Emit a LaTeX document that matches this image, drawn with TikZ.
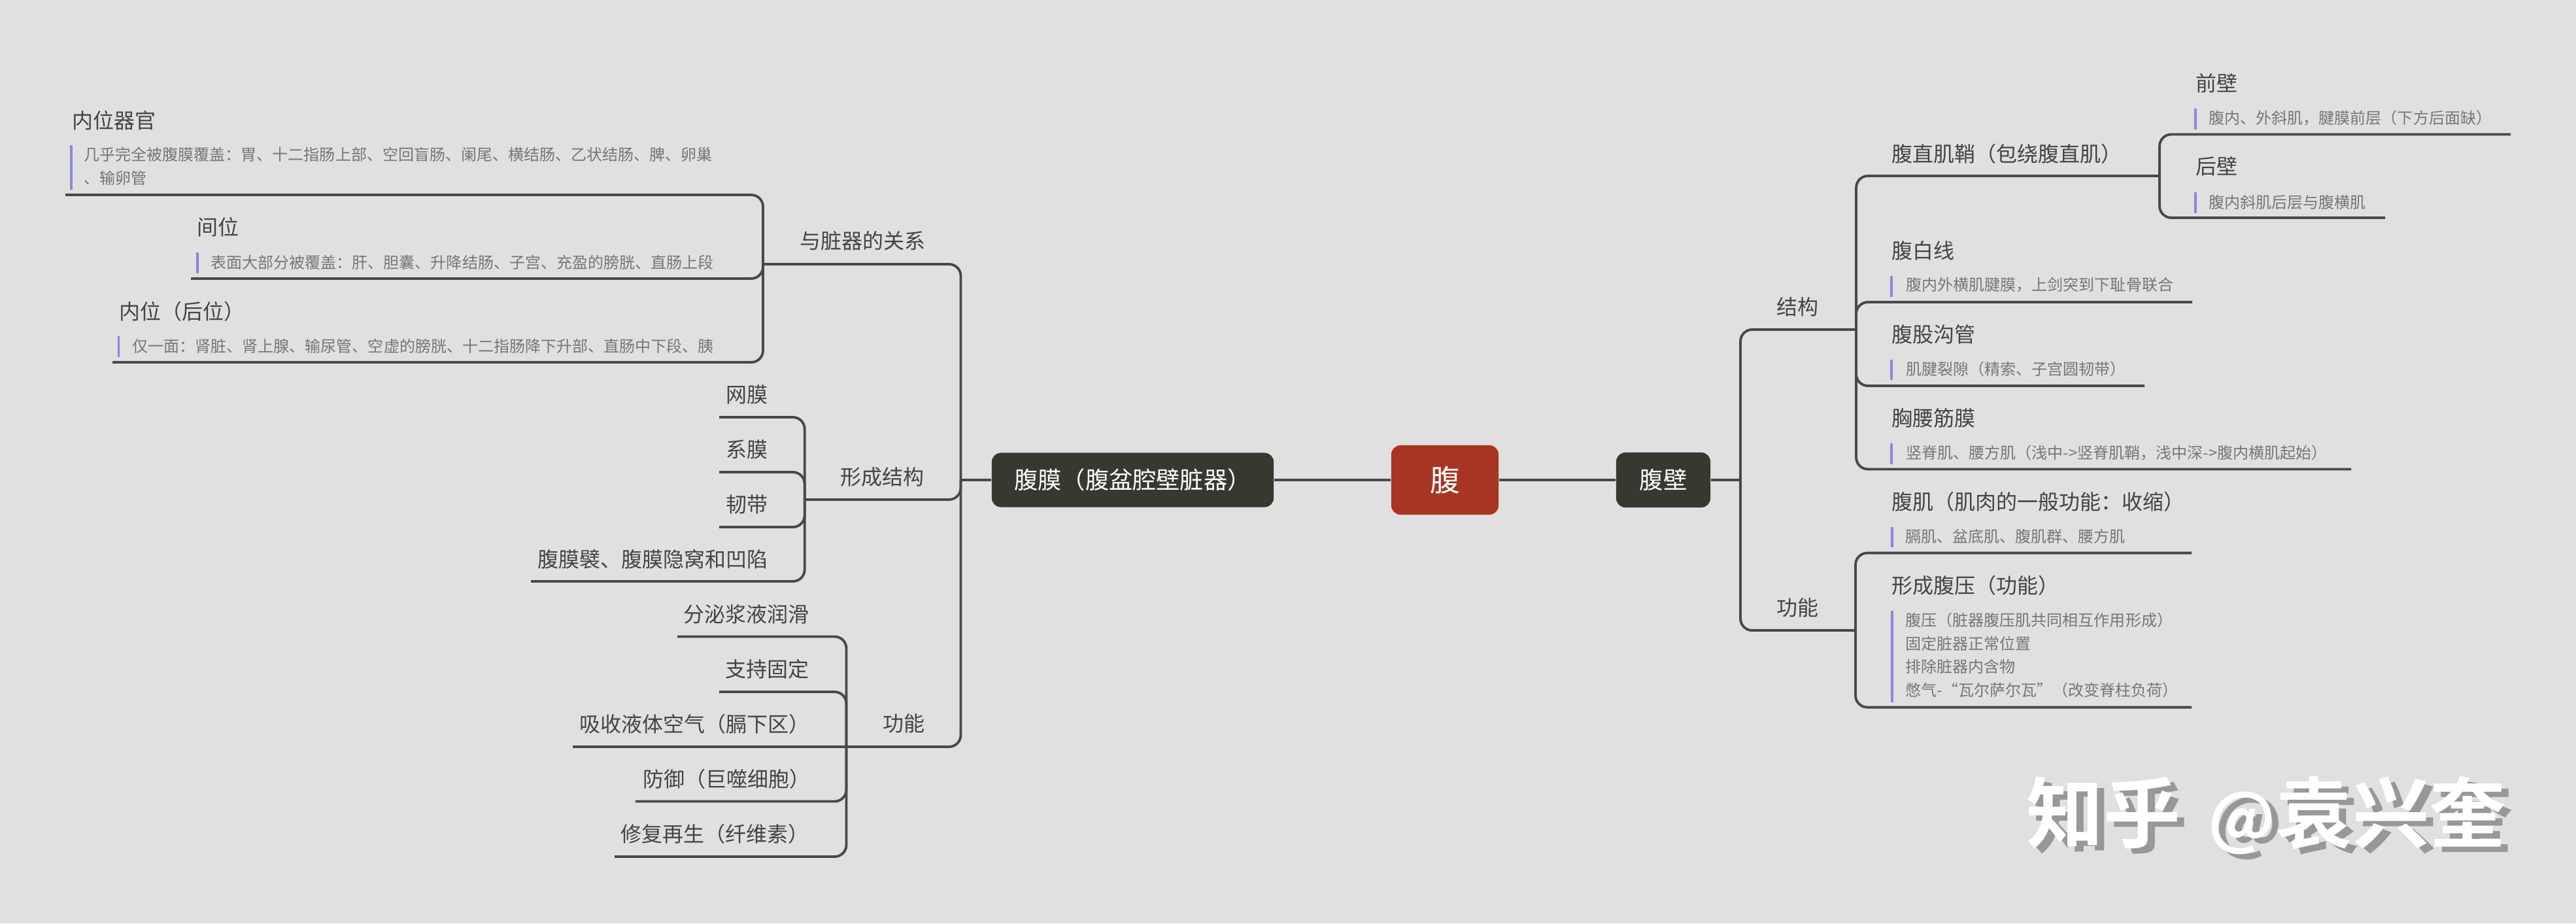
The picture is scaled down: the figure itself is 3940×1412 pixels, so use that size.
\documentclass[tikz,border=0pt]{standalone}
\usepackage{fontspec}
\setmainfont{Noto Sans CJK SC}
\newfontfamily\wmfont[BoldFont={Noto Sans CJK SC Bold}]{Noto Sans CJK SC}
\newcommand{\wmtext}{知乎\hspace{12pt}{\fontsize{29pt}{36pt}\selectfont @}袁兴奎}
\definecolor{bgc}{HTML}{E0E0E0}
\definecolor{linec}{HTML}{48484C}
\definecolor{topicc}{HTML}{444444}
\definecolor{notec}{HTML}{767676}
\definecolor{barc}{HTML}{8888DC}
\definecolor{darkbox}{HTML}{383830}
\definecolor{redbox}{HTML}{A83424}
\definecolor{wmshadow}{HTML}{989898}
\tikzset{
  x=0.01cm,y=-0.01cm,
  topic/.style={anchor=west,inner sep=0pt,text=topicc,font=\fontsize{9.1pt}{11pt}\selectfont},
  notetext/.style={anchor=west,inner sep=0pt,text=notec,align=left,font=\fontsize{6.83pt}{10.1pt}\selectfont},
  notebar/.style={draw=barc,line width=1pt},
  conn/.style={draw=linec,line width=1.1pt,rounded corners=0.18cm},
  branchbox/.style={fill=darkbox,rounded corners=0.14cm,text=white,inner sep=0pt,font=\fontsize{10.3pt}{12pt}\selectfont},
  rootbox/.style={fill=redbox,rounded corners=0.14cm,text=white,inner sep=0pt,font=\fontsize{13pt}{15pt}\selectfont},
  wm/.style={anchor=west,inner sep=0pt,font=\wmfont\bfseries\fontsize{33.5pt}{36pt}\selectfont},
}
\begin{document}
\begin{tikzpicture}
\fill[bgc] (0,0) rectangle (3940,1412);
\useasboundingbox (0,0) rectangle (3940,1412);
% boxes
\node[rootbox,minimum width=1.64cm,minimum height=1.06cm] (root) at (2210,734) {腹};
\node[branchbox,minimum width=4.31cm,minimum height=0.83cm] (pm) at (1732.5,734) {腹膜（腹盆腔壁脏器）};
\node[branchbox,minimum width=1.44cm,minimum height=0.84cm] (wall) at (2544,734) {腹壁};
\coordinate (lj) at (1469.5,734);
\coordinate (rj) at (2662,734);
\draw[conn] (root.west) -- (pm.east);
\draw[conn] (root.east) -- (wall.west);
\draw[conn] (pm.west) -- (lj);
\draw[conn] (wall.east) -- (rj);
% ---------- left level 1
\coordinate (relA) at (1167,404);
\coordinate (strA) at (1230.7,764);
\coordinate (funA) at (1294.5,1142);
\draw[conn] (lj) |- (relA);
\draw[conn] (lj) |- (strA);
\draw[conn] (lj) |- (funA);
\node[topic] (rel) at (1223,368) {与脏器的关系};
\node[topic] (str) at (1285,729) {形成结构};
\node[topic] (fun) at (1350,1106) {功能};
% relation children
\coordinate (e1) at (100,298);
\coordinate (e2) at (292,426);
\coordinate (e3) at (172,554);
\draw[conn] (relA) |- (e1);
\draw[conn] (relA) |- (e2);
\draw[conn] (relA) |- (e3);
\node[topic] (t1) at (110,184) {内位器官};
\draw[notebar] (109,222) -- (109,290);
\node[notetext] (n1) at (128,254.5) {几乎完全被腹膜覆盖：胃、十二指肠上部、空回盲肠、阑尾、横结肠、乙状结肠、脾、卵巢\\、输卵管};
\node[topic] (t2) at (301,347) {间位};
\draw[notebar] (302,386) -- (302,418);
\node[notetext] (n2) at (322,401) {表面大部分被覆盖：肝、胆囊、升降结肠、子宫、充盈的膀胱、直肠上段};
\node[topic] (t3) at (182,476) {内位（后位）};
\draw[notebar] (181.6,514) -- (181.6,546);
\node[notetext] (n3) at (202,529) {仅一面：肾脏、肾上腺、输尿管、空虚的膀胱、十二指肠降下升部、直肠中下段、胰};
% structure children
\coordinate (s1) at (1100,638);
\coordinate (s2) at (1100,722);
\coordinate (s3) at (1100,806);
\coordinate (s4) at (812,889);
\draw[conn] (strA) |- (s1);
\draw[conn] (strA) |- (s2);
\draw[conn] (strA) |- (s3);
\draw[conn] (strA) |- (s4);
\node[topic] (ts1) at (1110,603.6) {网膜};
\node[topic] (ts2) at (1110,687) {系膜};
\node[topic] (ts3) at (1110,771) {韧带};
\node[topic] (ts4) at (822,855) {腹膜襞、腹膜隐窝和凹陷};
% function children
\coordinate (f1) at (1036,973.5);
\coordinate (f2) at (1100,1058);
\coordinate (f3) at (876,1142);
\coordinate (f4) at (972,1225.5);
\coordinate (f5) at (940,1310);
\draw[conn] (funA) |- (f1);
\draw[conn] (funA) |- (f2);
\draw[conn] (funA) -- (f3);
\draw[conn] (funA) |- (f4);
\draw[conn] (funA) |- (f5);
\node[topic] (tf1) at (1045,939) {分泌浆液润滑};
\node[topic] (tf2) at (1109,1023.5) {支持固定};
\node[topic] (tf3) at (886,1107) {吸收液体空气（膈下区）};
\node[topic] (tf4) at (983,1191) {防御（巨噬细胞）};
\node[topic] (tf5) at (949,1275) {修复再生（纤维素）};
% ---------- right level 1
\coordinate (jgA) at (2839,504);
\coordinate (gnA) at (2838,964);
\draw[conn] (rj) |- (jgA);
\draw[conn] (rj) |- (gnA);
\node[topic] (jg) at (2717,469) {结构};
\node[topic] (gn) at (2717,929) {功能};
% structure
\coordinate (qA) at (3303,269);
\coordinate (r2) at (3353,462);
\coordinate (r3) at (3280,590);
\coordinate (r4) at (3596,717.5);
\draw[conn] (jgA) |- (qA);
\draw[conn] (jgA) |- (r2);
\draw[conn] (jgA) |- (r3);
\draw[conn] (jgA) |- (r4);
\node[topic] (tq) at (2893,235) {腹直肌鞘（包绕腹直肌）};
\coordinate (q1) at (3840,205.5);
\coordinate (q2) at (3648,333);
\draw[conn] (qA) |- (q1);
\draw[conn] (qA) |- (q2);
\node[topic] (tq1) at (3358,127) {前壁};
\draw[notebar] (3358,166) -- (3358,197.5);
\node[notetext] (nq1) at (3378,181) {腹内、外斜肌，腱膜前层（下方后面缺）};
\node[topic] (tq2) at (3358,254.5) {后壁};
\draw[notebar] (3358,294) -- (3358,326);
\node[notetext] (nq2) at (3378,309) {腹内斜肌后层与腹横肌};
\node[topic] (tr2) at (2893,383.5) {腹白线};
\draw[notebar] (2893,422) -- (2893,454);
\node[notetext] (nr2) at (2915,436) {腹内外横肌腱膜，上剑突到下耻骨联合};
\node[topic] (tr3) at (2893,511) {腹股沟管};
\draw[notebar] (2893,550) -- (2893,581);
\node[notetext] (nr3) at (2915,564) {肌腱裂隙（精索、子宫圆韧带）};
\node[topic] (tr4) at (2893,639) {胸腰筋膜};
\draw[notebar] (2893,678) -- (2893,709.5);
\node[notetext] (nr4) at (2915,692) {竖脊肌、腰方肌（浅中->竖脊肌鞘，浅中深->腹内横肌起始）};
% function
\coordinate (g1) at (3352,845.6);
\coordinate (g2) at (3352,1081.6);
\draw[conn] (gnA) |- (g1);
\draw[conn] (gnA) |- (g2);
\node[topic] (tg1) at (2893,767) {腹肌（肌肉的一般功能：收缩）};
\draw[notebar] (2894,806) -- (2894,837);
\node[notetext] (ng1) at (2914,820) {膈肌、盆底肌、腹肌群、腰方肌};
\node[topic] (tg2) at (2893,895) {形成腹压（功能）};
\draw[notebar] (2894,934) -- (2894,1074);
\node[notetext] (ng2) at (2914,1002) {腹压（脏器腹压肌共同相互作用形成）\\固定脏器正常位置\\排除脏器内含物\\憋气-“瓦尔萨尔瓦”（改变脊柱负荷）};
% watermark
\node[wm,text=wmshadow] (wms) at (3110,1255) {\wmtext};
\node[wm,text=white] (wmt) at (3099,1247) {\wmtext};
\end{tikzpicture}
\end{document}
